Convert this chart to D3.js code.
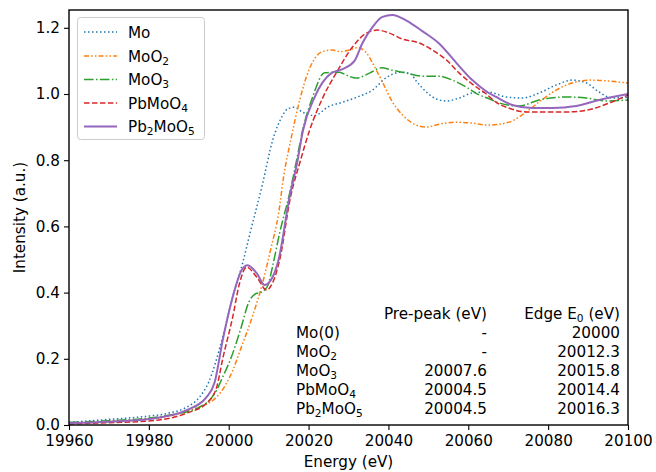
<!DOCTYPE html>
<html>
<head>
<meta charset="utf-8">
<script src="https://cdn.jsdelivr.net/npm/d3@7"></script>
<style>
  html, body { margin: 0; padding: 0; background: #fff; }
  svg text { font-family: "DejaVu Sans", sans-serif; fill: #000; }
</style>
</head>
<body>
<svg id="chart" width="656" height="472"></svg>
<script>
// ---------- data ----------
const moE = [19960, 19970, 19980, 19985, 19989.5, 19992.75, 19995, 19998.5, 20001, 20003.5, 20005.25, 20008.5, 20011, 20013.5, 20014.75, 20016.5, 20018.5, 20021.5, 20025, 20028.5, 20032, 20036, 20039.5, 20043.25, 20045.25, 20047.25, 20049.5, 20052, 20054.5, 20057.75, 20061, 20065, 20069.5, 20073.5, 20077.75, 20082, 20086, 20089.5, 20092.75, 20096, 20100];
const moI = [0.008, 0.017, 0.027, 0.036, 0.054, 0.085, 0.13, 0.266, 0.387, 0.49, 0.575, 0.73, 0.86, 0.935, 0.955, 0.96, 0.945, 0.935, 0.962, 0.975, 0.99, 1.012, 1.05, 1.066, 1.063, 1.035, 1.006, 0.985, 0.979, 0.988, 1.003, 1.006, 0.991, 0.988, 1.003, 1.027, 1.042, 1.034, 1.006, 0.988, 0.99];

const moo2E = [19960, 19970, 19980, 19985, 19991, 19997, 20001, 20003, 20006, 20008.5, 20010.5, 20012.5, 20013.75, 20015.7, 20017.75, 20020, 20022.25, 20024, 20026, 20028, 20030, 20032.25, 20034.5, 20036, 20038.5, 20041, 20043.5, 20047, 20049.5, 20052.75, 20057, 20061, 20065, 20070.25, 20073.5, 20077.75, 20082, 20086, 20090.25, 20095.25, 20100];
const moo2I = [0.005, 0.01, 0.018, 0.027, 0.048, 0.085, 0.165, 0.23, 0.33, 0.43, 0.53, 0.64, 0.75, 0.87, 0.98, 1.07, 1.118, 1.13, 1.133, 1.128, 1.132, 1.14, 1.124, 1.094, 1.036, 0.976, 0.937, 0.906, 0.9, 0.909, 0.915, 0.912, 0.906, 0.915, 0.937, 0.976, 1.012, 1.033, 1.042, 1.039, 1.033];

const moo3E = [19960, 19970, 19980, 19986, 19992.75, 19997, 19998.5, 20000.5, 20003, 20005, 20006.5, 20008.25, 20009.75, 20011, 20012.75, 20015.25, 20017, 20018.5, 20021, 20024, 20027.75, 20029.5, 20032, 20035.25, 20038.25, 20041, 20044.5, 20048.5, 20052.75, 20056, 20059.5, 20062.75, 20064.75, 20067.75, 20072.75, 20077.75, 20084.5, 20089.5, 20094.5, 20100];
const moo3I = [0.008, 0.013, 0.021, 0.032, 0.054, 0.106, 0.145, 0.2, 0.29, 0.37, 0.395, 0.402, 0.42, 0.48, 0.58, 0.7, 0.8, 0.89, 0.99, 1.064, 1.066, 1.057, 1.048, 1.063, 1.079, 1.072, 1.063, 1.054, 1.054, 1.042, 1.021, 0.997, 0.988, 0.973, 0.964, 0.982, 0.991, 0.988, 0.979, 0.982];

const pbmoo4E = [19960, 19970, 19980, 19989.5, 19994.5, 19997, 19998.5, 20001, 20002.75, 20004.5, 20007, 20009.5, 20011, 20012.75, 20015.5, 20017.75, 20020.25, 20023.6, 20026.9, 20031, 20034.5, 20037.25, 20040.25, 20043.5, 20047.75, 20051, 20054.5, 20057.75, 20061, 20064.5, 20067, 20070, 20074.5, 20079.5, 20085.25, 20091, 20096, 20100];
const pbmoo4I = [0.003, 0.007, 0.012, 0.036, 0.066, 0.115, 0.2, 0.326, 0.43, 0.477, 0.447, 0.408, 0.43, 0.498, 0.69, 0.79, 0.89, 0.99, 1.063, 1.142, 1.184, 1.193, 1.184, 1.166, 1.154, 1.133, 1.103, 1.063, 1.03, 1.0, 0.975, 0.958, 0.946, 0.946, 0.946, 0.955, 0.976, 0.997];

const pb2moo5E = [19960, 19970, 19980, 19989.5, 19994.5, 19996.5, 19998.5, 20001, 20003.25, 20004.75, 20007, 20009, 20011, 20012.5, 20015.25, 20017.1, 20018.6, 20021.5, 20025.7, 20028.5, 20031.5, 20033.5, 20036, 20038.5, 20041, 20044.5, 20048.5, 20052.75, 20057, 20061, 20064.75, 20067, 20071, 20076, 20081, 20087, 20092.75, 20100];
const pb2moo5I = [0.006, 0.01, 0.018, 0.045, 0.085, 0.13, 0.257, 0.387, 0.468, 0.483, 0.459, 0.423, 0.447, 0.5, 0.69, 0.79, 0.89, 0.99, 1.063, 1.075, 1.10, 1.154, 1.202, 1.233, 1.239, 1.222, 1.19, 1.152, 1.094, 1.042, 1.006, 0.991, 0.967, 0.958, 0.958, 0.964, 0.982, 1.0];

const xTicks = [19960, 19980, 20000, 20020, 20040, 20060, 20080, 20100];
const yTicks = [0.0, 0.2, 0.4, 0.6, 0.8, 1.0, 1.2];

const tableHeader = ["", "Pre-peak (eV)", "Edge E|0| (eV)"];
const tableNames = ["Mo(0)", "MoO|2|", "MoO|3|", "PbMoO|4|", "Pb|2|MoO|5|"];
const tablePrePeak = ["-", "-", "20007.6", "20004.5", "20004.5"];
const tableEdge = ["20000", "20012.3", "20015.8", "20014.4", "20016.3"];

const seriesNames = ["Mo", "MoO|2|", "MoO|3|", "PbMoO|4|", "Pb|2|MoO|5|"];

// ---------- layout ----------
const W = 656, H = 472;
const M = { left: 69, right: 628, top: 10, bottom: 425 };
const FS = 15.2;

const svg = d3.select("#chart");
const x = d3.scaleLinear().domain([19960, 20100]).range([M.left, M.right]);
const y = d3.scaleLinear().domain([0, 1.2538]).range([M.bottom, M.top]);

const series = [
  { name: seriesNames[0], E: moE, I: moI, color: "#1f77b4", dash: "1.5,2.5", width: 1.5 },
  { name: seriesNames[1], E: moo2E, I: moo2I, color: "#ff7f0e", dash: "5,2.2,1.5,2.2,1.5,2.2", width: 1.5 },
  { name: seriesNames[2], E: moo3E, I: moo3I, color: "#2ca02c", dash: "9.6,2.4,1.5,2.4", width: 1.5 },
  { name: seriesNames[3], E: pbmoo4E, I: pbmoo4I, color: "#d62728", dash: "5.55,2.4", width: 1.5 },
  { name: seriesNames[4], E: pb2moo5E, I: pb2moo5I, color: "#9467bd", dash: null, width: 2 }
];

svg.append("defs").append("clipPath").attr("id", "clip")
  .append("rect").attr("x", M.left).attr("y", M.top)
  .attr("width", M.right - M.left).attr("height", M.bottom - M.top);

// helper: text with subscripts encoded as a|sub|b
function richText(sel, str, fs) {
  const parts = str.split("|");
  parts.forEach((p, i) => {
    if (p === "") return;
    const t = sel.append("tspan").text(p);
    if (i % 2 === 1) {
      t.attr("font-size", fs * 0.7).attr("dy", fs * 0.22);
    } else if (i > 0) {
      t.attr("dy", -fs * 0.22);
    }
  });
}

// lines
const line = d3.line().curve(d3.curveMonotoneX)
  .x(d => x(d[0])).y(d => y(d[1]));

const plot = svg.append("g").attr("clip-path", "url(#clip)");
series.forEach(s => {
  const pts = s.E.map((e, i) => [e, s.I[i]]);
  plot.append("path").datum(pts)
    .attr("d", line)
    .attr("fill", "none")
    .attr("stroke", s.color)
    .attr("stroke-width", s.width)
    .attr("stroke-dasharray", s.dash)
    .attr("stroke-linejoin", "round");
});

// axes
const xAxis = d3.axisBottom(x).tickValues(xTicks).tickFormat(d3.format("d")).tickSizeOuter(0).tickSize(5).tickPadding(5.5);
const yAxis = d3.axisLeft(y).tickValues(yTicks).tickFormat(d3.format(".1f")).tickSizeOuter(0).tickSize(5).tickPadding(4);

const gx = svg.append("g").attr("transform", `translate(0,${M.bottom})`).call(xAxis);
const gy = svg.append("g").attr("transform", `translate(${M.left},0)`).call(yAxis);
[gx, gy].forEach(g => {
  g.select(".domain").remove();
  g.selectAll(".tick line").attr("stroke", "#000").attr("stroke-width", 1.1);
  g.selectAll(".tick text").attr("font-size", FS).attr("font-family", "DejaVu Sans").attr("fill", "#000");
});

// frame
svg.append("rect").attr("x", M.left).attr("y", M.top)
  .attr("width", M.right - M.left).attr("height", M.bottom - M.top)
  .attr("fill", "none").attr("stroke", "#000").attr("stroke-width", 1.4);

// axis labels
svg.append("text").attr("x", (M.left + M.right) / 2).attr("y", 467)
  .attr("text-anchor", "middle").attr("font-size", FS).text("Energy (eV)");
svg.append("text").attr("transform", `translate(25,${(M.top + M.bottom) / 2}) rotate(-90)`)
  .attr("text-anchor", "middle").attr("font-size", FS).text("Intensity (a.u.)");

// legend
const lg = svg.append("g");
lg.append("rect").attr("x", 77.5).attr("y", 17.5).attr("width", 127).attr("height", 122)
  .attr("rx", 3).attr("fill", "#fff").attr("fill-opacity", 0.8)
  .attr("stroke", "#cccccc").attr("stroke-width", 1);
const rowY = [32, 56, 79.5, 103, 126.5];
series.forEach((s, i) => {
  lg.append("line").attr("x1", 84).attr("x2", 117).attr("y1", rowY[i]).attr("y2", rowY[i])
    .attr("stroke", s.color).attr("stroke-width", s.width).attr("stroke-dasharray", s.dash);
  const t = lg.append("text").attr("x", 128).attr("y", rowY[i] + 5.5).attr("font-size", FS);
  richText(t, s.name, FS);
});

// table
const tb = svg.append("g");
const headY = 319, rowStep = 19;
const colX = [296, 487, 620];
tableHeader.forEach((h, j) => {
  if (!h) return;
  const t = tb.append("text").attr("x", colX[j]).attr("y", headY).attr("font-size", FS).attr("text-anchor", "end");
  richText(t, h, FS);
});
tableNames.forEach((n, i) => {
  const yy = headY + rowStep * (i + 1);
  const t0 = tb.append("text").attr("x", colX[0]).attr("y", yy).attr("font-size", FS);
  richText(t0, n, FS);
  tb.append("text").attr("x", colX[1]).attr("y", yy).attr("font-size", FS).attr("text-anchor", "end").text(tablePrePeak[i]);
  tb.append("text").attr("x", colX[2]).attr("y", yy).attr("font-size", FS).attr("text-anchor", "end").text(tableEdge[i]);
});
</script>
</body>
</html>
